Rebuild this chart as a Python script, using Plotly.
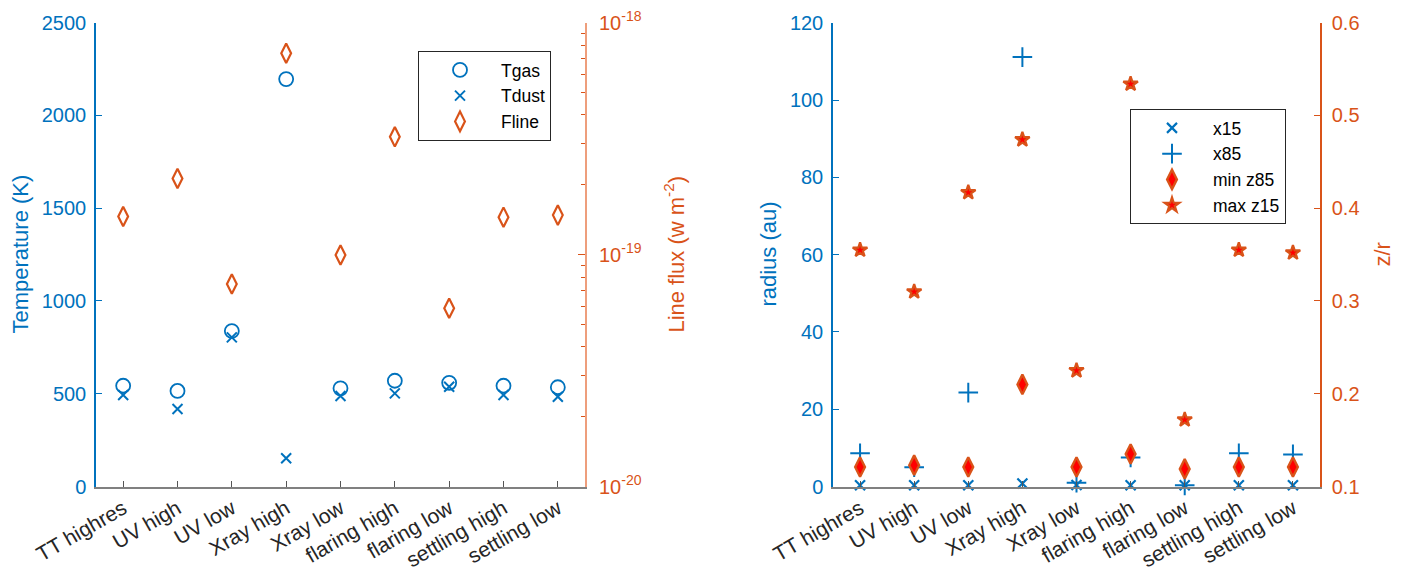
import plotly.graph_objects as go

categories = ["TT highres", "UV high", "UV low", "Xray high", "Xray low",
              "flaring high", "flaring low", "settling high", "settling low"]

# Left panel
tgas = [543, 515, 838, 2196, 529, 570, 559, 543, 535]
tdust = [493, 418, 804, 152, 488, 502, 538, 493, 484]
fline = [1.46e-19, 2.13e-19, 7.47e-20, 7.38e-19, 9.96e-20, 3.22e-19, 5.87e-20, 1.45e-19, 1.48e-19]

# Right panel
x15 = [0.3, 0.3, 0.3, 0.8, 0.4, 0.3, 0.3, 0.3, 0.3]
x85 = [8.6, 5.0, 24.3, 111.1, 1.0, 7.5, 0.3, 8.6, 8.3]
min_z85 = [0.121, 0.123, 0.121, 0.210, 0.121, 0.135, 0.119, 0.121, 0.121]
max_z15 = [0.355, 0.310, 0.417, 0.474, 0.225, 0.534, 0.172, 0.355, 0.352]

BLUE = "#0072BD"
ORANGE = "#D95319"
FONT = "Liberation Sans"
W, H = 1405, 572

idx = list(range(len(categories)))

fig = go.Figure()

fig.add_trace(go.Scatter(x=idx, y=tgas, mode="markers", name="Tgas", cliponaxis=False,
                         marker=dict(symbol="circle-open", size=14, color=BLUE,
                                     line=dict(width=1.8, color=BLUE)),
                         xaxis="x", yaxis="y", legend="legend"))
fig.add_trace(go.Scatter(x=idx, y=tdust, mode="markers", name="Tdust", cliponaxis=False,
                         marker=dict(symbol="x-thin-open", size=10, color=BLUE,
                                     line=dict(width=2, color=BLUE)),
                         xaxis="x", yaxis="y", legend="legend"))
fig.add_trace(go.Scatter(x=idx, y=fline, mode="markers", name="Fline", cliponaxis=False,
                         marker=dict(symbol="diamond-tall-open", size=14, color=ORANGE,
                                     line=dict(width=2.2, color=ORANGE)),
                         xaxis="x", yaxis="y2", legend="legend"))

fig.add_trace(go.Scatter(x=idx, y=x15, mode="markers", name="x15", cliponaxis=False,
                         marker=dict(symbol="x-thin-open", size=10, color=BLUE,
                                     line=dict(width=2.2, color=BLUE)),
                         xaxis="x2", yaxis="y3", legend="legend2"))
fig.add_trace(go.Scatter(x=idx, y=x85, mode="markers", name="x85", cliponaxis=False,
                         marker=dict(symbol="cross-thin-open", size=14, color=BLUE,
                                     line=dict(width=2, color=BLUE)),
                         xaxis="x2", yaxis="y3", legend="legend2"))
fig.add_trace(go.Scatter(x=idx, y=min_z85, mode="markers", name="min z85", cliponaxis=False,
                         marker=dict(symbol="diamond-tall", size=14, color="#FF0000",
                                     line=dict(width=2.4, color=ORANGE)),
                         xaxis="x2", yaxis="y4", legend="legend2"))
fig.add_trace(go.Scatter(x=idx, y=max_z15, mode="markers", name="max z15", cliponaxis=False,
                         marker=dict(symbol="star", size=11, color="#FF0000",
                                     line=dict(width=2.2, color=ORANGE)),
                         xaxis="x2", yaxis="y4", legend="legend2"))

ytop, ybot = 22.7, 486.5
ydom = [1 - ybot / H, 1 - ytop / H]
xdom1 = [96 / W, 585 / W]
xdom2 = [833 / W, 1320 / W]


def xaxis_cfg(dom, anchor):
    return dict(domain=dom, anchor=anchor, range=[-0.5, 8.5], automargin=False,
                tickmode="array", tickvals=idx, ticktext=categories,
                tickangle=-30, ticks="inside", ticklen=6, tickcolor="#555",
                showline=True, linecolor="#808080", linewidth=1.5,
                showgrid=False, zeroline=False,
                tickfont=dict(family=FONT, size=21, color="#262626"))

minor_log = [k * 10.0 ** e for e in (-20, -19) for k in range(2, 10)]

legend_common = dict(xanchor="left", yanchor="top",
                     bgcolor="white", bordercolor="#262626", borderwidth=1,
                     font=dict(family=FONT, size=17.5, color="black"),
                     itemwidth=72, tracegroupgap=0)

fig.update_layout(
    width=W, height=H,
    margin=dict(l=0, r=0, t=0, b=0),
    paper_bgcolor="white", plot_bgcolor="white",
    font=dict(family=FONT, size=20),
    xaxis=xaxis_cfg(xdom1, "y"),
    xaxis2=xaxis_cfg(xdom2, "y3"),
    yaxis=dict(domain=ydom, anchor="x", range=[0, 2500], automargin=False,
               tickvals=[0, 500, 1000, 1500, 2000, 2500],
               ticks="inside", ticklen=6, tickcolor=BLUE,
               showline=True, linecolor=BLUE, linewidth=1.5,
               showgrid=False, zeroline=False,
               tickfont=dict(family=FONT, size=20, color=BLUE),
               ticklabelstandoff=4),
    yaxis2=dict(overlaying="y", side="right", anchor="x", type="log",
                range=[-20, -18], automargin=False,
                tickmode="array", tickvals=[1e-20, 1e-19, 1e-18],
                ticktext=["10<sup>-20</sup>", "10<sup>-19</sup>", "10<sup>-18</sup>"],
                ticks="inside", ticklen=7, tickcolor=ORANGE,
                minor=dict(tickmode="array", tickvals=minor_log, ticks="inside",
                           ticklen=4, tickcolor=ORANGE),
                showline=True, linecolor="#EE9E7C", linewidth=2,
                showgrid=False, zeroline=False,
                tickfont=dict(family=FONT, size=20, color=ORANGE),
                ticklabelstandoff=8),
    yaxis3=dict(domain=ydom, anchor="x2", range=[0, 120], automargin=False,
                tickvals=[0, 20, 40, 60, 80, 100, 120],
                ticks="inside", ticklen=6, tickcolor=BLUE,
                showline=True, linecolor=BLUE, linewidth=1.5,
                showgrid=False, zeroline=False,
                tickfont=dict(family=FONT, size=20, color=BLUE),
                ticklabelstandoff=4),
    yaxis4=dict(overlaying="y3", side="right", anchor="x2", range=[0.1, 0.6],
                automargin=False,
                tickvals=[0.1, 0.2, 0.3, 0.4, 0.5, 0.6],
                ticktext=["0.1", "0.2", "0.3", "0.4", "0.5", "0.6"],
                ticks="inside", ticklen=6, tickcolor=ORANGE,
                showline=True, linecolor=ORANGE, linewidth=1.5,
                showgrid=False, zeroline=False,
                tickfont=dict(family=FONT, size=20, color=ORANGE),
                ticklabelstandoff=6),
    legend=dict(x=418 / W, y=1 - 51 / H, **legend_common),
    legend2=dict(x=1130 / W, y=1 - 109 / H, **legend_common),
    showlegend=True,
)

ymid = 1 - ((ytop + ybot) / 2) / H
titles = [
    ("Temperature (K)", 21, BLUE),
    ("Line flux (w m<sup>-2</sup>)", 674, ORANGE),
    ("radius (au)", 769, BLUE),
    ("z/r", 1383, ORANGE),
]
for text, xpx, col in titles:
    fig.add_annotation(text=text, x=xpx / W, y=ymid, xref="paper", yref="paper",
                       xanchor="center", yanchor="middle", textangle=-90,
                       showarrow=False, font=dict(family=FONT, size=22, color=col))

fig.write_html("out.html")
